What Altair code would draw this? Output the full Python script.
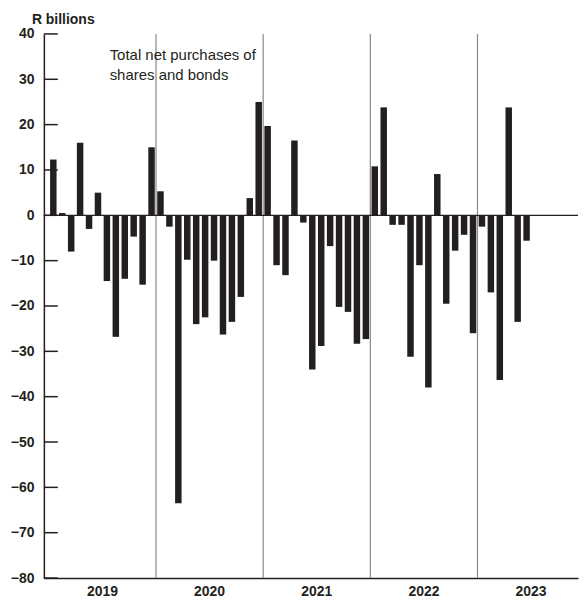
import altair as alt
import pandas as pd

VALUES = [
    12.3, 0.5, -8, 16, -3, 5, -14.5, -26.8, -14, -4.7, -15.3, 15,
    5.3, -2.5, -63.5, -9.8, -24, -22.5, -10, -26.3, -23.5, -18, 3.8, 25,
    19.7, -11, -13.2, 16.5, -1.6, -34, -28.8, -6.8, -20.2, -21.3, -28.3, -27.3,
    10.8, 23.8, -2.1, -2.1, -31.2, -11, -38, 9.1, -19.5, -7.8, -4.3, -26,
    -2.5, -17, -36.3, 23.8, -23.5, -5.6,
]
YEARS = ["2019", "2020", "2021", "2022", "2023"]
Y_TICKS = [40, 30, 20, 10, 0, -10, -20, -30, -40, -50, -60, -70, -80]

W, H = 536, 546
XMAX = 58.7
FONT = "Liberation Sans"

bars_df = pd.DataFrame({"m": [i + 0.5 for i in range(len(VALUES))], "v": VALUES})
xs = alt.Scale(domain=[0, XMAX], nice=False, zero=False)
ys = alt.Scale(domain=[-80, 40], nice=False)

bars = alt.Chart(bars_df).mark_bar(color="#231f20", size=6.5).encode(
    x=alt.X("m:Q", scale=xs, axis=alt.Axis(labels=False, ticks=False, grid=False,
                                            domainColor="#231f20", domainWidth=1.5, title=None)),
    y=alt.Y("v:Q", scale=ys, axis=alt.Axis(values=Y_TICKS, ticks=False, grid=False, title=None,
                                            labelFont=FONT, labelFontSize=14, labelFontWeight="bold",
                                            labelColor="#231f20", labelPadding=10,
                                            domainColor="#231f20", domainWidth=1.5)),
)

seps = alt.Chart(pd.DataFrame({"s": [12, 24, 36, 48]})).mark_rule(color="#888", strokeWidth=1.2).encode(
    x=alt.X("s:Q", scale=xs)
)

zero = alt.Chart(pd.DataFrame({"z": [0]})).mark_rule(color="#231f20", strokeWidth=1.2).encode(
    y=alt.Y("z:Q", scale=ys)
)

ticks = alt.Chart(pd.DataFrame({"t": Y_TICKS})).mark_rule(color="#231f20", strokeWidth=1.5).encode(
    y=alt.Y("t:Q", scale=ys), x=alt.value(0), x2=alt.value(14)
)

years = alt.Chart(pd.DataFrame({"c": [6, 18, 30, 42, 54], "y": YEARS})).mark_text(
    font=FONT, fontSize=14, fontWeight="bold", color="#231f20", baseline="middle"
).encode(x=alt.X("c:Q", scale=xs), y=alt.value(H + 14), text="y:N")

note = alt.Chart(pd.DataFrame({"t": [["Total net purchases of", "shares and bonds"]]})).mark_text(
    font=FONT, fontSize=15, color="#231f20", align="left", baseline="top", lineHeight=20
).encode(x=alt.value(66), y=alt.value(14), text="t")

chart = (
    alt.layer(seps, bars, zero, ticks, years, note)
    .properties(
        width=W, height=H,
        title=alt.TitleParams("R billions", anchor="start", frame="group", font=FONT, fontSize=14,
                              fontWeight="bold", color="#231f20", dx=-12, offset=0),
        padding={"top": 4, "left": 2, "right": 0, "bottom": 0},
    )
    .configure_view(stroke=None)
)
chart.save("out.html", embed_options={"renderer": "svg", "actions": False})
